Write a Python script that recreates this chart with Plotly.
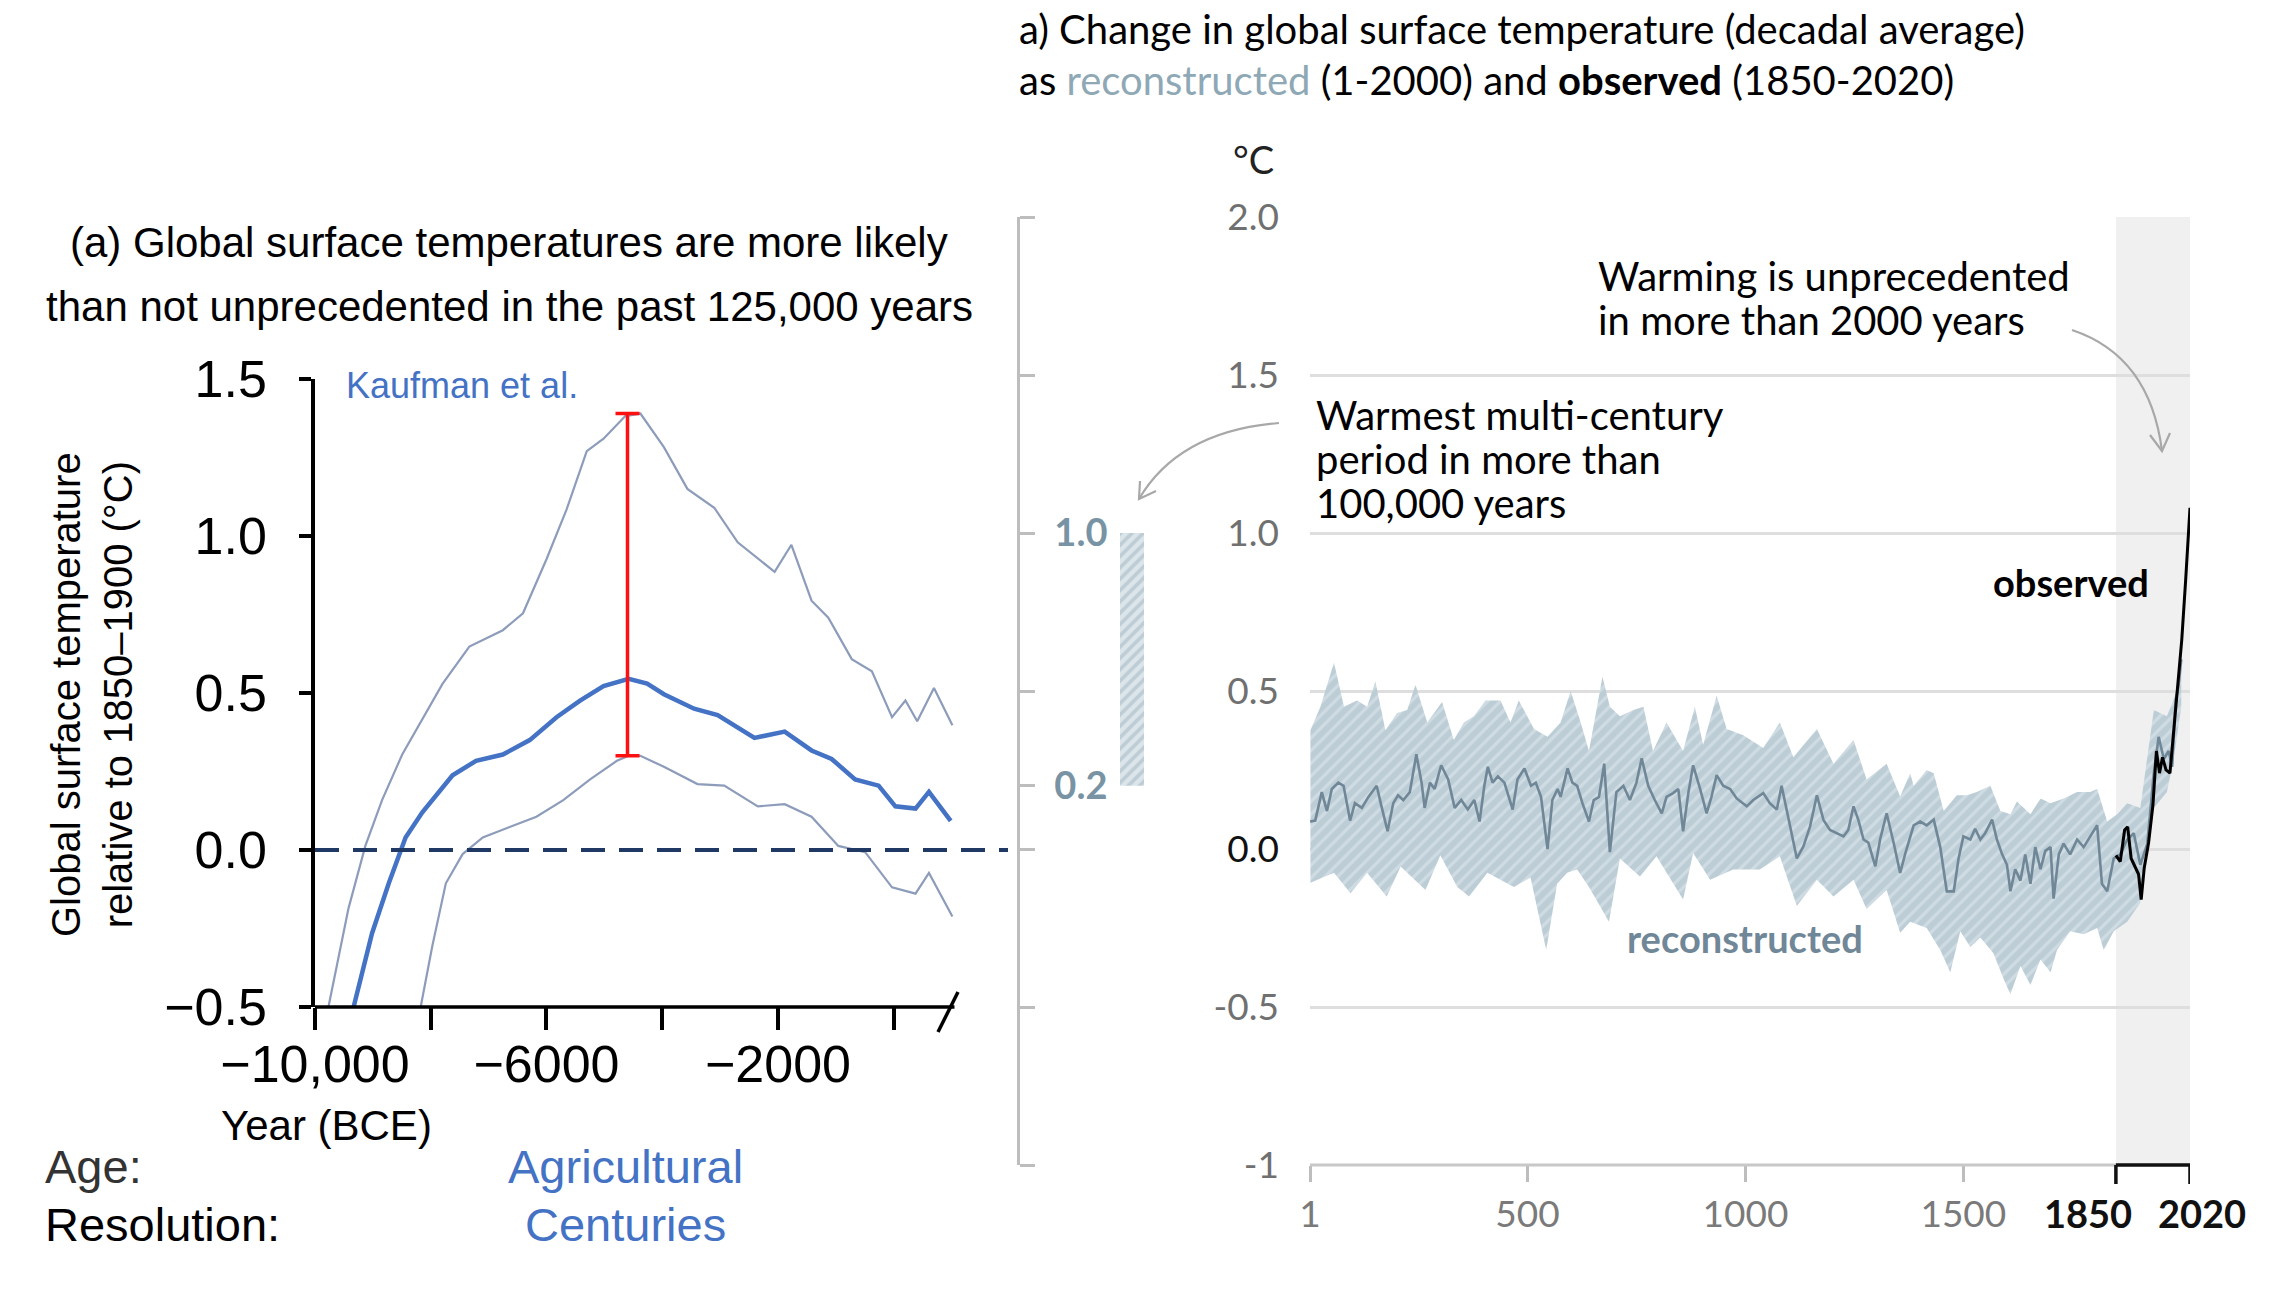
import plotly.graph_objects as go

W, H = 2269, 1290

# ---------------- Holocene reconstruction (Kaufman et al.) ----------------
kauf_mean_years = [-9333, -9014, -8725, -8435, -8145, -7623, -7217, -6754, -6290, -5826,
                   -5420, -5014, -4580, -4261, -3971, -3449, -3043, -2406, -1884, -1420,
                   -1073, -667, -261, 29, 377, 609, 985]
kauf_mean_vals = [-0.5, -0.265, -0.106, 0.04, 0.12, 0.238, 0.284, 0.304, 0.35, 0.423,
                  0.476, 0.522, 0.545, 0.53, 0.496, 0.45, 0.43, 0.357, 0.377, 0.317,
                  0.29, 0.225, 0.205, 0.139, 0.132, 0.185, 0.093]

kauf_upper_years = [-9768, -9420, -9130, -8841, -8493, -8203, -7797, -7333, -6754, -6406,
                    -6000, -5652, -5304, -5014, -4638, -4377, -3971, -3565, -3101, -2696,
                    -2232, -2058, -1768, -1420, -1130, -725, -377, -29, 203, 406, 696, 1014]
kauf_upper_vals = [-0.5, -0.185, 0.013, 0.159, 0.304, 0.397, 0.529, 0.648, 0.70, 0.754,
                   0.926, 1.085, 1.27, 1.31, 1.382, 1.39, 1.283, 1.15, 1.09, 0.98,
                   0.913, 0.886, 0.972, 0.794, 0.74, 0.608, 0.569, 0.423, 0.476, 0.41, 0.516, 0.397]

kauf_lower_years = [-8174, -7971, -7739, -7449, -7101, -6638, -6174, -5710, -5246, -4783,
                    -4580, -4377, -3971, -3391, -2928, -2348, -1884, -1420, -957, -493,
                    -29, 377, 609, 1014]
kauf_lower_vals = [-0.5, -0.304, -0.106, -0.013, 0.04, 0.073, 0.106, 0.159, 0.225, 0.284,
                   0.30, 0.30, 0.265, 0.21, 0.205, 0.139, 0.146, 0.106, 0.013, -0.007,
                   -0.119, -0.139, -0.073, -0.212]

# warmest multi-century period: range of the peak
peak_year = -4600
peak_low, peak_high = 0.30, 1.39

left_ytick_vals = [-0.5, 0.0, 0.5, 1.0, 1.5]
left_ytick_text = ["\u22120.5", "0.0", "0.5", "1.0", "1.5"]
left_xtick_vals = [-10000, -8000, -6000, -4000, -2000, 0]
left_xtick_text = ["\u221210,000", "", "\u22126000", "", "\u22122000", ""]

# ---------------- Common Era reconstruction and observations ----------------
recon_years = [1, 13, 28, 40, 51, 66, 78, 93, 104, 120, 135, 154, 165, 179, 192, 203, 215, 230,
               245, 257, 264, 276, 287, 302, 318, 333, 348, 363, 378, 390, 401, 409, 420, 432,
               447, 466, 477, 493, 508, 519, 531, 546, 557, 569, 576, 592, 603, 614, 626, 641,
               652, 664, 676, 689, 704, 720, 735, 750, 762, 777, 792, 808, 819, 834, 846, 857,
               869, 880, 896, 911, 922, 934, 949, 965, 980, 1003, 1018, 1041, 1056, 1072, 1083,
               1099, 1118, 1133, 1148, 1164, 1179, 1194, 1210, 1225, 1236, 1248, 1259, 1271,
               1282, 1298, 1309, 1324, 1340, 1355, 1367, 1378, 1386, 1401, 1416, 1432, 1447,
               1462, 1478, 1489, 1500, 1516, 1527, 1539, 1550, 1566, 1577, 1589, 1600, 1608,
               1619, 1631, 1642, 1654, 1665, 1677, 1688, 1700, 1707, 1719, 1730, 1745, 1761,
               1776, 1791, 1807, 1818, 1830, 1845, 1860, 1876, 1891, 1906, 1922, 1937, 1948,
               1960, 1971, 1979, 1987, 1994, 2000]
recon_vals = [0.087, 0.09, 0.18, 0.12, 0.19, 0.21, 0.20, 0.09, 0.145, 0.13, 0.165, 0.20, 0.135,
              0.056, 0.145, 0.17, 0.155, 0.18, 0.30, 0.21, 0.13, 0.21, 0.19, 0.265, 0.22, 0.13,
              0.155, 0.125, 0.155, 0.087, 0.20, 0.26, 0.21, 0.23, 0.21, 0.125, 0.22, 0.255, 0.20,
              0.21, 0.165, 0.0, 0.155, 0.19, 0.165, 0.255, 0.21, 0.20, 0.145, 0.087, 0.155, 0.165,
              0.27, -0.01, 0.18, 0.20, 0.155, 0.21, 0.287, 0.20, 0.155, 0.113, 0.165, 0.177, 0.19,
              0.056, 0.177, 0.265, 0.19, 0.113, 0.165, 0.234, 0.20, 0.19, 0.16, 0.135, 0.155,
              0.177, 0.145, 0.125, 0.20, 0.092, -0.03, 0.008, 0.07, 0.17, 0.092, 0.06, 0.05,
              0.04, 0.06, 0.135, 0.092, 0.03, 0.02, -0.055, 0.03, 0.113, 0.02, -0.076, -0.013,
              0.04, 0.075, 0.087, 0.075, 0.093, 0.006, -0.134, -0.134, -0.03, 0.04, 0.03, 0.064,
              0.03, 0.05, 0.093, 0.03, -0.017, -0.05, -0.134, -0.064, -0.10, -0.017, -0.11,
              0.006, -0.064, -0.006, 0.006, -0.157, -0.017, 0.017, -0.017, 0.03, 0.006, 0.04,
              0.075, -0.11, -0.134, -0.03, -0.017, 0.03, 0.05, -0.05, 0.017, 0.24, 0.355, 0.285,
              0.31, 0.26, 0.47, 0.52, 0.60]

band_upper_years = [2, 25, 56, 79, 109, 132, 151, 174, 201, 224, 243, 270, 304, 331, 354, 377,
                    404, 438, 461, 480, 515, 546, 576, 599, 622, 641, 653, 672, 689, 712, 743,
                    766, 788, 819, 857, 884, 903, 934, 957, 995, 1041, 1079, 1110, 1164, 1202,
                    1248, 1278, 1324, 1355, 1378, 1386, 1416, 1432, 1455, 1485, 1508, 1531,
                    1562, 1585, 1608, 1623, 1654, 1677, 1700, 1730, 1761, 1791, 1807, 1830,
                    1853, 1876, 1906, 1937, 1967, 1990, 2000]
band_upper_vals = [0.376, 0.45, 0.59, 0.45, 0.47, 0.45, 0.53, 0.376, 0.43, 0.44, 0.52, 0.40,
                   0.465, 0.345, 0.40, 0.42, 0.47, 0.47, 0.40, 0.47, 0.38, 0.355, 0.40, 0.50,
                   0.40, 0.31, 0.40, 0.545, 0.45, 0.42, 0.44, 0.45, 0.31, 0.40, 0.31, 0.45,
                   0.33, 0.485, 0.38, 0.36, 0.32, 0.40, 0.29, 0.38, 0.27, 0.345, 0.22, 0.27,
                   0.166, 0.24, 0.20, 0.25, 0.24, 0.12, 0.17, 0.17, 0.18, 0.20, 0.12, 0.11,
                   0.15, 0.11, 0.16, 0.145, 0.16, 0.18, 0.18, 0.19, 0.087, 0.11, 0.145, 0.13,
                   0.44, 0.42, 0.50, 0.62]

band_lower_years = [2, 56, 94, 132, 177, 209, 266, 300, 339, 366, 408, 469, 507, 543, 568, 591,
                    614, 641, 687, 712, 758, 796, 857, 880, 919, 972, 1033, 1079, 1118, 1164,
                    1202, 1248, 1278, 1324, 1355, 1378, 1416, 1447, 1470, 1493, 1516, 1539,
                    1569, 1592, 1608, 1631, 1654, 1677, 1700, 1715, 1745, 1776, 1807, 1822,
                    1845, 1876, 1906, 1937, 1967, 1982, 2000]
band_lower_vals = [-0.107, -0.075, -0.14, -0.075, -0.15, -0.055, -0.13, -0.02, -0.12, -0.15,
                   -0.075, -0.12, -0.09, -0.32, -0.11, -0.075, -0.065, -0.12, -0.23, -0.03,
                   -0.087, -0.023, -0.16, -0.013, -0.097, -0.065, -0.065, -0.023, -0.18, -0.097,
                   -0.15, -0.097, -0.19, -0.13, -0.265, -0.23, -0.25, -0.32, -0.39, -0.26,
                   -0.31, -0.28, -0.33, -0.41, -0.46, -0.37, -0.43, -0.35, -0.39, -0.32, -0.26,
                   -0.27, -0.25, -0.32, -0.26, -0.23, -0.17, 0.13, 0.18, 0.28, 0.45]

obs_years = [1850, 1860, 1870, 1877, 1885, 1895, 1902, 1908, 1915, 1925, 1935, 1943, 1950,
             1957, 1965, 1974, 1982, 1990, 2001, 2010, 2020]
obs_vals = [-0.02, -0.04, 0.06, 0.07, -0.03, -0.06, -0.08, -0.16, -0.06, 0.02, 0.14, 0.31,
            0.24, 0.29, 0.25, 0.24, 0.36, 0.47, 0.66, 0.85, 1.08]

right_ytick_vals = [-1, -0.5, 0.0, 0.5, 1.0, 1.5, 2.0]
right_ytick_text = ["-1", "-0.5", "<span style='color:#111111'>0.0</span>", "0.5", "1.0", "1.5", "2.0"]
right_xtick_vals = [1, 500, 1000, 1500]
right_xtick_text = ["1", "500", "1000", "1500"]
instrumental_start, instrumental_end = 1850, 2020

# multi-century warm period range shown on the middle scale
warm_low, warm_high = 0.2, 1.0
mid_tick_vals = [-1, -0.5, 0.0, 0.2, 0.5, 1.0, 1.5, 2.0]
mid_tick_text = ["", "", "", "0.2", "", "1.0", "", ""]

# ---------------- styling ----------------
NARROW = "Liberation Sans Narrow, Arial Narrow, Liberation Sans, Arial, sans-serif"
ARIAL = "Liberation Sans, Arial, sans-serif"
LATO = "Lato, Calibri, sans-serif"
BLUE = "#4472c4"
THIN = "#8d9cba"
RECON = "#6f8797"
MIDLBL = "#7893a3"


def px(x):
    return x / W


def py(y):
    return 1 - y / H


fig = go.Figure()

# left panel
fig.add_trace(go.Scatter(x=kauf_upper_years, y=kauf_upper_vals, mode="lines",
                         line=dict(color=THIN, width=2.2), xaxis="x", yaxis="y"))
fig.add_trace(go.Scatter(x=kauf_lower_years, y=kauf_lower_vals, mode="lines",
                         line=dict(color=THIN, width=2.2), xaxis="x", yaxis="y"))
fig.add_trace(go.Scatter(x=kauf_mean_years, y=kauf_mean_vals, mode="lines",
                         line=dict(color=BLUE, width=4.5), xaxis="x", yaxis="y"))
fig.add_trace(go.Scatter(x=[-10000, 1975], y=[0, 0], mode="lines",
                         line=dict(color="#1f3864", width=4, dash="24px,14px"),
                         xaxis="x", yaxis="y"))
fig.add_trace(go.Scatter(x=[peak_year], y=[(peak_low + peak_high) / 2], mode="markers",
                         marker=dict(size=1, opacity=0),
                         error_y=dict(type="data", array=[(peak_high - peak_low) / 2],
                                      color="#ff1010", thickness=3.5, width=12),
                         xaxis="x", yaxis="y"))

# right panel
band_x = band_upper_years + band_lower_years[::-1]
band_y = band_upper_vals + band_lower_vals[::-1]
fig.add_trace(go.Scatter(x=band_x, y=band_y, mode="lines", fill="toself",
                         line=dict(width=0, color="rgba(0,0,0,0)"),
                         fillcolor="#c6d4dc",
                         fillpattern=dict(shape="/", bgcolor="#bccdd6", fgcolor="#e3ebef",
                                          size=9, solidity=0.35),
                         xaxis="x2", yaxis="y2"))
fig.add_trace(go.Scatter(x=recon_years, y=recon_vals, mode="lines",
                         line=dict(color=RECON, width=2.6), xaxis="x2", yaxis="y2"))
fig.add_trace(go.Scatter(x=obs_years, y=obs_vals, mode="lines",
                         line=dict(color="#000000", width=3), xaxis="x2", yaxis="y2"))

# middle scale with the hatched range
fig.add_trace(go.Bar(x=[0], y=[warm_high - warm_low], base=[warm_low], width=1,
                     marker=dict(color="#bccdd6", line=dict(width=0),
                                 pattern=dict(shape="/", bgcolor="#dbe5ea", fgcolor="#9fb4c0",
                                              size=8, solidity=0.45)),
                     xaxis="x3", yaxis="y3"))

fig.update_layout(
    width=W, height=H, margin=dict(l=0, r=0, t=0, b=0, autoexpand=False),
    paper_bgcolor="white", plot_bgcolor="rgba(0,0,0,0)", showlegend=False,
    xaxis=dict(domain=[px(315), px(1008)], range=[-10000, 1975], anchor="y", automargin=False,
               showline=False, showgrid=False, zeroline=False,
               tickmode="array", tickvals=left_xtick_vals, ticktext=left_xtick_text,
               ticks="outside", ticklen=22, tickwidth=3.5, tickcolor="black",
               tickfont=dict(family=NARROW, size=52, color="black"), ticklabelstandoff=-10),
    yaxis=dict(domain=[py(1007), py(379)], range=[-0.5, 1.5], anchor="x", automargin=False,
               showline=True, linewidth=3.5, linecolor="black", showgrid=False, zeroline=False,
               tickmode="array", tickvals=left_ytick_vals, ticktext=left_ytick_text,
               ticks="outside", ticklen=12, tickwidth=3.5, tickcolor="black",
               tickfont=dict(family=NARROW, size=52, color="black"), ticklabelstandoff=22),
    xaxis2=dict(domain=[px(1310), px(2190)], range=[1, 2020], anchor="y2", automargin=False,
                showline=False, showgrid=False, zeroline=False,
                tickmode="array", tickvals=right_xtick_vals, ticktext=right_xtick_text,
                ticks="outside", ticklen=16, tickwidth=2.5, tickcolor="#bdbdbd",
                tickfont=dict(family=LATO, size=37, color="#7a7a7a"), ticklabelstandoff=1),
    yaxis2=dict(domain=[py(1165), py(217)], range=[-1, 2], anchor="x2", automargin=False,
                showline=False, showgrid=True, gridcolor="#dedede", gridwidth=3, zeroline=False,
                tickmode="array", tickvals=right_ytick_vals, ticktext=right_ytick_text,
                ticks="", tickfont=dict(family=LATO, size=37, color="#707070"),
                ticklabelstandoff=30),
    xaxis3=dict(domain=[px(1120), px(1144)], range=[-0.5, 0.5], anchor="y3", visible=False,
                automargin=False),
    yaxis3=dict(domain=[py(1165), py(217)], range=[-1, 2], anchor="free", position=px(1018),
                automargin=False,
                side="right", showline=True, linewidth=2.5, linecolor="#bdbdbd",
                showgrid=False, zeroline=False,
                tickmode="array", tickvals=mid_tick_vals, ticktext=mid_tick_text,
                ticks="outside", ticklen=15, tickwidth=2.5, tickcolor="#bdbdbd",
                tickfont=dict(family=LATO, size=38, color=MIDLBL, weight="bold"),
                ticklabelstandoff=12),
)

shapes = []
# instrumental period background
shapes.append(dict(type="rect", xref="x2", yref="y2", x0=instrumental_start, x1=instrumental_end,
                   y0=-1, y1=2, fillcolor="#f0f0f0", line=dict(width=0), layer="below"))
# right axis baseline
shapes.append(dict(type="line", xref="x2", yref="paper", x0=1, x1=instrumental_start,
                   y0=py(1165), y1=py(1165), line=dict(color="#c8c8c8", width=3)))
shapes.append(dict(type="line", xref="x2", yref="paper", x0=instrumental_start, x1=instrumental_end,
                   y0=py(1165), y1=py(1165), line=dict(color="#111111", width=3.5)))
for yr in (instrumental_start, instrumental_end):
    shapes.append(dict(type="line", xref="x2", yref="paper", x0=yr, x1=yr,
                       y0=py(1165), y1=py(1184), line=dict(color="#111111", width=3.5)))
# left x axis with a break
shapes.append(dict(type="line", xref="x", yref="paper", x0=-10000, x1=1050,
                   y0=py(1007), y1=py(1007), line=dict(color="black", width=3.5)))
shapes.append(dict(type="line", xref="paper", yref="paper", x0=px(938), x1=px(958),
                   y0=py(1032), y1=py(992), line=dict(color="black", width=3.5)))
# curved pointer arrows
ARROW = dict(color="#a8a8a8", width=2.2)
shapes.append(dict(type="path", xref="paper", yref="paper", line=ARROW,
                   path=f"M {px(2072)} {py(330)} Q {px(2150)} {py(356)} {px(2162)} {py(451)}"))
shapes.append(dict(type="path", xref="paper", yref="paper", line=ARROW,
                   path=f"M {px(2150)} {py(435)} L {px(2162)} {py(451)} L {px(2170)} {py(433)}"))
shapes.append(dict(type="path", xref="paper", yref="paper", line=ARROW,
                   path=f"M {px(1279)} {py(423)} Q {px(1179)} {py(431)} {px(1139)} {py(499)}"))
shapes.append(dict(type="path", xref="paper", yref="paper", line=ARROW,
                   path=f"M {px(1140)} {py(481)} L {px(1139)} {py(499)} L {px(1156)} {py(491)}"))
fig.update_layout(shapes=shapes)

ann = []


def text(x, y, s, size, family, color="black", xanchor="left", **kw):
    ann.append(dict(xref="paper", yref="paper", x=px(x), y=py(y), text=s, showarrow=False,
                    xanchor=xanchor, yanchor="middle",
                    font=dict(size=size, family=family, color=color), **kw))


# left panel texts
text(509, 242, "(a) Global surface temperatures are more likely", 42, NARROW, xanchor="center")
text(509, 307, "than not unprecedented in the past 125,000 years", 42, NARROW, xanchor="center")
text(344, 386, "Kaufman et al.", 36, NARROW, color=BLUE)
text(326, 1125, "Year (BCE)", 42, NARROW, xanchor="center")
text(43, 1166, "Age:", 47, NARROW, color="#333333")
text(43, 1224, "Resolution:", 47, NARROW)
text(625, 1166, "Agricultural", 47, NARROW, color=BLUE, xanchor="center")
text(625, 1224, "Centuries", 47, NARROW, color=BLUE, xanchor="center")
ann.append(dict(xref="paper", yref="paper", x=px(92), y=py(695),
                text="Global surface temperature<br>relative to 1850\u20131900 (\u00b0C)",
                showarrow=False, textangle=-90, xanchor="center", yanchor="middle",
                font=dict(size=40, family=ARIAL, color="black")))

# right panel texts
text(1017, 29, "a) Change in global surface temperature (decadal average)", 40, LATO)
text(1017, 80, "as <span style='color:#8ea8b6'>reconstructed</span> (1-2000) and "
               "<b>observed</b> (1850-2020)", 40, LATO)
text(1253, 159, "\u00b0C", 38, LATO, color="#222222", xanchor="center")
text(1596, 276, "Warming is unprecedented", 40, LATO)
text(1596, 320, "in more than 2000 years", 40, LATO)
text(1314, 415, "Warmest multi-century", 40, LATO)
text(1314, 459, "period in more than", 40, LATO)
text(1314, 503, "100,000 years", 40, LATO)
text(2071, 582, "<b>observed</b>", 38, LATO, xanchor="center")
text(1745, 938, "<b>reconstructed</b>", 38, LATO, color=RECON, xanchor="center")
text(2088, 1213, "<b>1850</b>", 38, LATO, color="#111111", xanchor="center")
text(2202, 1213, "<b>2020</b>", 38, LATO, color="#111111", xanchor="center")
fig.update_layout(annotations=ann)

fig.write_html("out.html")
